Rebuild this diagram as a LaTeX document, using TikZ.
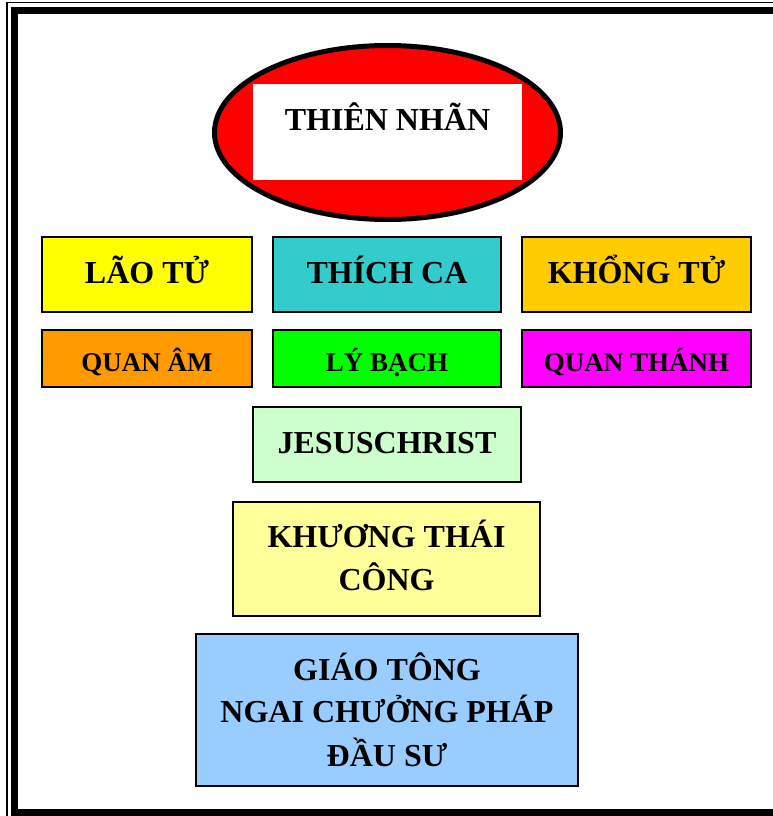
\documentclass[tikz,border=0pt]{standalone}
\usepackage{fontspec}
\setmainfont{Liberation Serif}
\usetikzlibrary{shapes.geometric}
\definecolor{cYellow}{HTML}{FFFF00}
\definecolor{cTeal}{HTML}{33CCCC}
\definecolor{cGold}{HTML}{FFCC00}
\definecolor{cOrange}{HTML}{FF9900}
\definecolor{cGreen}{HTML}{00FF00}
\definecolor{cMagenta}{HTML}{FF00FF}
\definecolor{cMint}{HTML}{CCFFCC}
\definecolor{cCream}{HTML}{FFFF99}
\definecolor{cSky}{HTML}{99CCFF}
\definecolor{cRed}{HTML}{FF0000}
\tikzset{
  box/.style={draw=black, line width=2pt, rectangle, inner sep=0pt},
  bigtxt/.style={anchor=base, inner sep=0pt, font=\fontsize{32}{44}\selectfont\bfseries},
  smalltxt/.style={anchor=base, inner sep=0pt, font=\fontsize{27}{32}\selectfont\bfseries},
}
\begin{document}
\begin{tikzpicture}[x=1pt,y=-1pt]
\useasboundingbox (0,0) rectangle (773,816);
\clip (0,0) rectangle (773,816);
\fill[white] (0,0) rectangle (773,816);
% frame
\draw[line width=1.5pt] (6.8,2.5) rectangle (790,830);
\draw[line width=7pt] (14.5,10.5) rectangle (779,812);
% top ellipse
\node[ellipse, draw=black, line width=5pt, fill=cRed, minimum width=346pt, minimum height=174pt, inner sep=0pt] (eye) at (387.5,132.5) {};
\node[rectangle, fill=white, minimum width=269pt, minimum height=96pt, inner sep=0pt] (eyebox) at (387.5,132) {};
\node[bigtxt] (eyetxt) at (387.5,130) {THIÊN NHÃN};
% row 1
\node[box, fill=cYellow, minimum width=210pt, minimum height=75pt] (lao) at (147,274.5) {};
\node[box, fill=cTeal, minimum width=228pt, minimum height=75pt] (thich) at (387,274.5) {};
\node[box, fill=cGold, minimum width=229pt, minimum height=75pt] (khong) at (636.5,274.5) {};
\node[bigtxt] (laotxt) at (147,283) {LÃO TỬ};
\node[bigtxt] (thichtxt) at (387,283) {THÍCH CA};
\node[bigtxt] (khongtxt) at (636.5,283) {KHỔNG TỬ};
% row 2
\node[box, fill=cOrange, minimum width=210pt, minimum height=57pt] (quanam) at (147,358.5) {};
\node[box, fill=cGreen, minimum width=228pt, minimum height=57pt] (lybach) at (387,358.5) {};
\node[box, fill=cMagenta, minimum width=229pt, minimum height=57pt] (quanthanh) at (636.5,358.5) {};
\node[smalltxt] (quanamtxt) at (147,371) {QUAN ÂM};
\node[smalltxt] (lybachtxt) at (387,371) {LÝ BẠCH};
\node[smalltxt] (quanthanhtxt) at (636.5,371) {QUAN THÁNH};
% jesus
\node[box, fill=cMint, minimum width=268pt, minimum height=75pt] (jesus) at (387,444.5) {};
\node[bigtxt] (jesustxt) at (387,453) {JESUSCHRIST};
% khuong
\node[box, fill=cCream, minimum width=307pt, minimum height=114pt] (khuong) at (386.5,559) {};
\node[bigtxt] (khuongA) at (386.5,547) {KHƯƠNG THÁI};
\node[bigtxt] (khuongB) at (386.5,590) {CÔNG};
% giao tong
\node[box, fill=cSky, minimum width=382pt, minimum height=152pt] (giao) at (387,710) {};
\node[bigtxt] (giaoA) at (387,680) {GIÁO TÔNG};
\node[bigtxt] (giaoB) at (387,722) {NGAI CHƯỞNG PHÁP};
\node[bigtxt] (giaoC) at (387,766) {ĐẦU SƯ};
\end{tikzpicture}
\end{document}
